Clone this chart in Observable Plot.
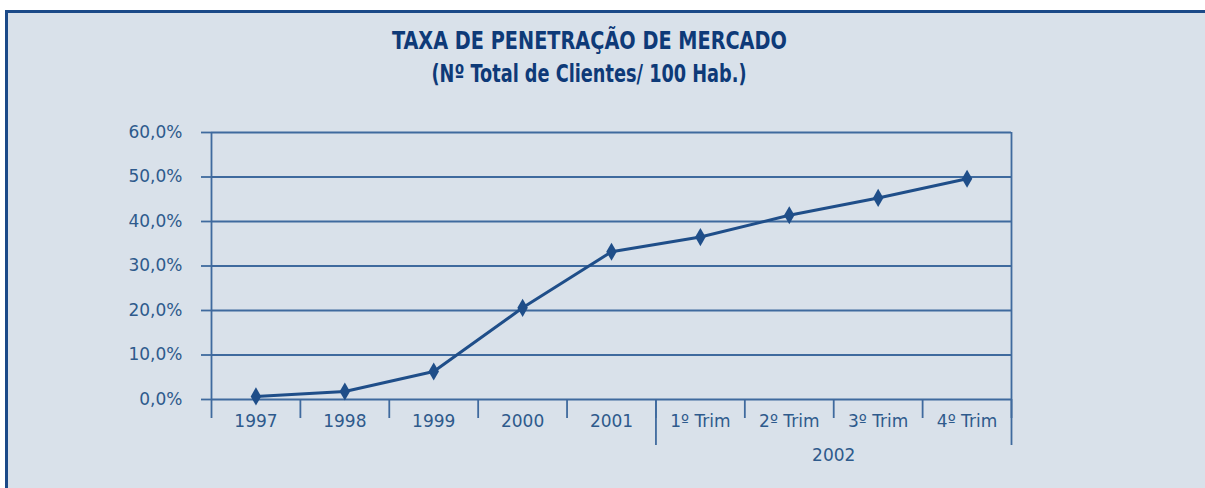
<!DOCTYPE html>
<html>
<head>
<meta charset="utf-8">
<script src="https://cdn.jsdelivr.net/npm/d3@7"></script>
<script src="https://cdn.jsdelivr.net/npm/@observablehq/plot@0.6"></script>
<style>
  html, body { margin: 0; padding: 0; background: #ffffff; width: 1205px; height: 488px; overflow: hidden; }
  #frame { position: absolute; left: 5px; top: 10px; width: 1260px; height: 520px; border: 3px solid #1b4a88; background: #d9e1ea; }
  #title { position: absolute; left: 0; top: 24px; width: 1178px; text-align: center;
           font-family: "DejaVu Sans Condensed", "DejaVu Sans", sans-serif; font-stretch: condensed; font-weight: bold;
           font-size: 25px; line-height: 33px; color: #0e3a78; }
  #title span { display: inline-block; transform-origin: 50% 50%; white-space: nowrap; }
  #chart { position: absolute; left: 0; top: 100px; }
  #chart svg { background: transparent; overflow: visible; }
</style>
</head>
<body>
<div id="frame"></div>
<div id="title"></div>
<div id="chart"></div>
<script>
const titleLines = ["TAXA DE PENETRAÇÃO DE MERCADO", "(Nº Total de Clientes/ 100 Hab.)"];
const categories = ["1997", "1998", "1999", "2000", "2001", "1º Trim", "2º Trim", "3º Trim", "4º Trim"];
const values = [0.7, 1.8, 6.3, 20.6, 33.2, 36.5, 41.4, 45.3, 49.6];
const yTicks = [0, 10, 20, 30, 40, 50, 60];
const groupLabel = "2002";
const groupMembers = ["1º Trim", "2º Trim", "3º Trim", "4º Trim"];

// title lines, squeezed horizontally to mimic the narrow typeface of the original
const titleWidths = [395, 315];
const titleEl = document.getElementById("title");
titleLines.forEach((t, k) => {
  const row = document.createElement("div");
  const span = document.createElement("span");
  span.textContent = t;
  row.appendChild(span);
  titleEl.appendChild(row);
  const w = span.getBoundingClientRect().width;
  span.style.transform = `scaleX(${titleWidths[k] / w})`;
});

const data = categories.map((c, i) => ({i, cat: c, v: values[i]}));
const idx = d3.range(categories.length);
const bounds = d3.range(categories.length + 1).map(k => k - 0.5);
const gStart = categories.indexOf(groupMembers[0]);
const gEnd = categories.indexOf(groupMembers[groupMembers.length - 1]);
const groupBounds = [gStart - 0.5, gEnd + 0.5];
const groupCenter = (gStart + gEnd) / 2;

const lineColor = "#3f6a9e";
const textColor = "#2e5a8c";
const seriesColor = "#1f4e89";

const chart = Plot.plot({
  width: 1205,
  height: 380,
  marginLeft: 211,
  marginRight: 194,
  marginTop: 32,
  marginBottom: 81,
  style: {fontFamily: "DejaVu Sans, sans-serif", fontSize: "17px", color: textColor, background: "transparent"},
  x: {type: "linear", domain: [-0.5, categories.length - 0.5], axis: null, label: null},
  y: {domain: [0, 60], axis: null, label: null},
  marks: [
    Plot.ruleY(yTicks, {stroke: lineColor, strokeWidth: 1.8}),
    Plot.ruleX([bounds[0], bounds[bounds.length - 1]], {stroke: lineColor, strokeWidth: 1.8}),
    Plot.axisY({ticks: yTicks, tickSize: 10, tickPadding: 19, label: null, stroke: lineColor, strokeWidth: 1.8, strokeOpacity: 1,
      tickFormat: d => d.toFixed(1).replace(".", ",") + "%", fill: textColor, fontSize: 17}),
    Plot.axisX({ticks: bounds, tickSize: 19, label: null, tickFormat: () => "", stroke: lineColor, strokeWidth: 1.8, strokeOpacity: 1}),
    Plot.axisX({ticks: groupBounds, tickSize: 46, label: null, tickFormat: () => "", stroke: lineColor, strokeWidth: 1.8, strokeOpacity: 1}),
    Plot.axisX({ticks: idx, tickSize: 0, tickPadding: 15, label: null, tickFormat: i => categories[i], fill: textColor, fontSize: 17}),
    Plot.axisX({ticks: [groupCenter], tickSize: 0, tickPadding: 49, label: null, tickFormat: () => groupLabel, fill: textColor, fontSize: 17}),
    Plot.line(data, {x: "i", y: "v", stroke: seriesColor, strokeWidth: 3}),
    Plot.dot(data, {x: "i", y: "v", symbol: "diamond", r: 5.5, fill: seriesColor, stroke: "none"})
  ]
});
document.getElementById("chart").appendChild(chart);
</script>
</body>
</html>
